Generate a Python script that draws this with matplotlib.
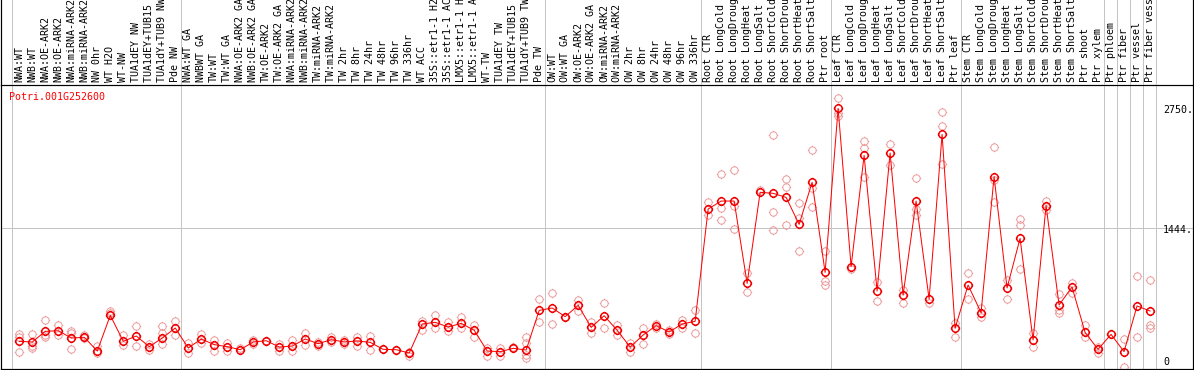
import matplotlib
matplotlib.use("Agg")
import matplotlib.pyplot as plt
from matplotlib.path import Path
from matplotlib.transforms import blended_transform_factory
import numpy as np

# ---------------- data ----------------
gene_name = "Potri.001G252600"

sample_labels = [
    "NWA:WT", "NWB:WT", "NWA:OE-ARK2", "NWB:OE-ARK2", "NWA:miRNA-ARK2", "NWB:miRNA-ARK2",
    "NW 0hr", "WT H2O", "WT-NW", "TUA1dEY NW", "TUA1dEY+TUB15 NW", "TUA1dY+TUB9 NW", "Pde NW",
    "NWA:WT GA", "NWBWT GA", "TW:WT", "TW:WT GA", "NWA:OE-ARK2 GA", "NWB:OE-ARK2 GA",
    "TW:OE-ARK2", "TW:OE-ARK2 GA", "NWA:miRNA-ARK2 GA", "NWB:miRNA-ARK2 GA", "TW:miRNA-ARK2",
    "TW:miRNA-ARK2 GA", "TW 2hr", "TW 8hr", "TW 24hr", "TW 48hr", "TW 96hr", "TW 336hr",
    "WT ACC", "35S::etr1-1 H2O", "35S::etr1-1 ACC", "LMX5::etr1-1 H2O", "LMX5::etr1-1 ACC",
    "WT-TW", "TUA1dEY TW", "TUA1dEY+TUB15 TW", "TUA1dY+TUB9 TW", "Pde TW",
    "OW:WT", "OW:WT GA", "OW:OE-ARK2", "OW:OE-ARK2 GA", "OW:miRNA-ARK2", "OW:miRNA-ARK2 GA",
    "OW 2hr", "OW 8hr", "OW 24hr", "OW 48hr", "OW 96hr", "OW 336hr",
    "Root CTR", "Root LongCold", "Root LongDrought", "Root LongHeat", "Root LongSalt",
    "Root ShortCold", "Root ShortDrought", "Root ShortHeat", "Root ShortSalt", "Ptr root",
    "Leaf CTR", "Leaf LongCold", "Leaf LongDrought", "Leaf LongHeat", "Leaf LongSalt",
    "Leaf ShortCold", "Leaf ShortDrought", "Leaf ShortHeat", "Leaf ShortSalt", "Ptr leaf",
    "Stem CTR", "Stem LongCold", "Stem LongDrought", "Stem LongHeat", "Stem LongSalt",
    "Stem ShortCold", "Stem ShortDrought", "Stem ShortHeat", "Stem ShortSalt", "Ptr shoot",
    "Ptr xylem", "Ptr phloem", "Ptr fiber", "Ptr vessel", "Ptr fiber vessel",
]

group_sizes = [13, 28, 12, 10, 10, 11, 1, 1, 1, 1]

mean_values = [
    214, 207, 323, 330, 250, 258, 109, 497, 214, 272, 156, 250, 359,
    142, 239, 178, 156, 123, 207, 221, 152, 163, 239, 189, 232, 207, 218, 203,
    127, 123, 87, 403, 421, 370, 410, 334, 109, 102, 138, 120, 551,
    577, 483, 606, 366, 493, 334, 152, 283, 385, 316, 403, 432,
    1654, 1741, 1741, 845, 1836, 1825, 1781, 1487, 1945, 965,
    2750, 1027, 2238, 762, 2264, 718, 1741, 675, 2467, 356,
    827, 526, 2006, 795, 1335, 229, 1691, 610, 805, 312, 127,
    290, 102, 599, 544,
]

replicate_values = [
    [298, 258, 98], [298, 163, 145], [443, 283, 258], [392, 283], [330, 301, 127],
    [283, 247], [163, 83], [544, 519], [283, 174], [381, 163], [189, 120],
    [381, 301, 181], [432, 283],
    [200, 83], [290, 192], [225, 113], [192, 113], [138], [181, 225], [221],
    [181, 113], [225, 113], [301, 174], [210, 163], [258, 210], [232, 181],
    [258, 167], [276, 123], [127], [123], [58, 102], [432, 337], [501, 363],
    [421, 326], [475, 363], [392, 261], [145, 58], [138, 58], [156],
    [265, 192, 65, 36], [675, 428],
    [737, 399], [483], [664, 544], [428, 301], [628, 356], [392, 283], [192, 102],
    [363, 181], [406, 363], [337, 290], [443, 363], [551, 301],
    [1727, 1589], [2032, 1662, 1535], [2075, 1691, 1437], [954, 747], [1865],
    [2460, 1618, 1422], [1981, 1897, 1480], [1716, 1560, 1197], [2293, 1887, 1676],
    [1197, 871, 827],
    [2859, 2696, 2670], [1001], [2394, 2322, 2006], [856, 653], [2358, 2133],
    [773, 628], [1988, 1654, 1589], [628], [2706, 2554, 2141], [410, 265],
    [954, 675], [581, 475], [2326, 1970, 1727], [882, 671], [1546, 1480, 1001],
    [301, 156], [1741, 1644], [726, 555, 519], [845, 737], [392, 265], [156, 83],
    [], [239, -70], [922, 258], [878, 392, 363],
]

ytick_values = [2750, 1444, 0]
ytick_labels = ["2750.", "1444.", "0"]
grid_y_value = 1444

# ---------------- layout ----------------
W, H = 1194, 370
fig = plt.figure(figsize=(W / 100, H / 100), dpi=100)

mono = "DejaVu Sans Mono"
fs = 7.2
px = 72 / 100.0  # points per pixel

x0_px, step_px = 19.3, 12.997
ax_left_px, ax_right_px = 1, 1193
xlim = ((ax_left_px - x0_px) / step_px, (ax_right_px - x0_px) / step_px)
ylim = (-87, 3004)

ax = fig.add_axes([ax_left_px / W, 1 / H, (ax_right_px - ax_left_px) / W, 284 / H])
lab = fig.add_axes([ax_left_px / W, 285 / H, (ax_right_px - ax_left_px) / W, 85 / H])

grid_color = "#c4c4c4"
n = len(mean_values)
xs = np.arange(n)

# group separators
bounds = np.concatenate([[0], np.cumsum(group_sizes)]) - 0.55
for b in bounds:
    ax.axvline(b, color=grid_color, lw=1 * px, zorder=0)
    lab.axvline(b, color=grid_color, lw=1 * px, zorder=0)
ax.axhline(grid_y_value, color=grid_color, lw=1 * px, zorder=0)

# custom marker: circle with four tiny ticks
tick = 1.28
verts = [(0, 1), (0, tick), (0, -1), (0, -tick), (1, 0), (tick, 0), (-1, 0), (-tick, 0)]
codes = [Path.MOVETO, Path.LINETO] * 4
marker = Path.make_compound_path(Path.unit_circle(), Path(verts, codes))
ms = 5.3 * tick  # circle diameter ~7.3 px

rep_x = [i for i, r in enumerate(replicate_values) for _ in r]
rep_y = [v for r in replicate_values for v in r]
ax.plot(rep_x, rep_y, linestyle="none", marker=marker, ms=ms, mfc="none",
        mec="#eb9c9c", mew=1.0 * px, zorder=2)
ax.plot(xs, mean_values, color="#ff0000", lw=1.0 * px, zorder=3)
ax.plot(xs, mean_values, linestyle="none", marker=marker, ms=ms, mfc="none",
        mec="#f00000", mew=1.5 * px, zorder=4)

ax.set_xlim(*xlim)
ax.set_ylim(*ylim)
ax.set_xticks([])
ax.set_yticks([])
for s in ax.spines.values():
    s.set_color("black")
    s.set_linewidth(1.2 * px)

# y labels inside at right
tr = blended_transform_factory(ax.transAxes, ax.transData)
for v, s in zip(ytick_values, ytick_labels):
    ax.text((1163 - ax_left_px) / (ax_right_px - ax_left_px), v - 15, s, transform=tr,
            ha="left", va="center", fontsize=fs, family=mono, color="black")

# gene name
ax.text((9 - ax_left_px) / (ax_right_px - ax_left_px), (369 - 97.5) / 284, gene_name,
        transform=ax.transAxes, ha="left", va="center", fontsize=fs, family=mono,
        color="#ff0000")

# sample labels (long ones run off the top edge, as in the reference)
lab.set_xlim(*xlim)
lab.set_ylim(0, 85)
lab.set_xticks([])
lab.set_yticks([])
lab.patch.set_alpha(0)
lab.spines["top"].set_visible(False)
lab.spines["bottom"].set_visible(False)
for k in ("left", "right"):
    lab.spines[k].set_color("black")
    lab.spines[k].set_linewidth(1.2 * px)
for i, s in enumerate(sample_labels):
    lab.text(i, 2.5, s, rotation=90, ha="center", va="bottom", fontsize=fs,
             family=mono, color="black")

fig.savefig("out.png", dpi=100)
